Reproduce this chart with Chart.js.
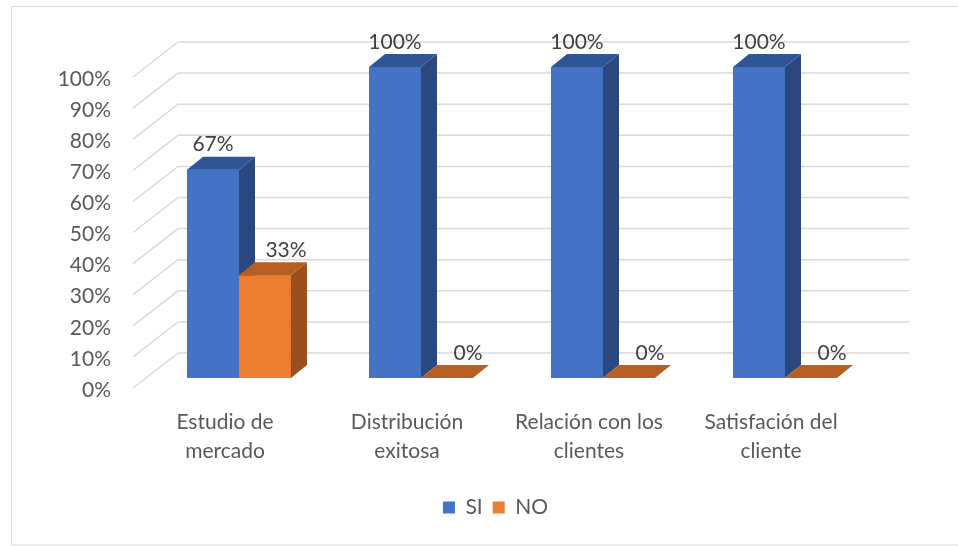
<!DOCTYPE html>
<html>
<head>
<meta charset="utf-8">
<script src="https://cdn.jsdelivr.net/npm/chart.js@4.4.1/dist/chart.umd.min.js"></script>
<style>
  html, body { margin: 0; padding: 0; background: #ffffff; }
  #wrap { width: 958px; height: 546px; position: relative; }
</style>
</head>
<body>
<div id="wrap"><canvas id="chart" width="958" height="546"></canvas></div>
<script>
// Survey results per item (share of answers)
const categories = [
  ['Estudio de', 'mercado'],
  ['Distribución', 'exitosa'],
  ['Relación con los', 'clientes'],
  ['Satisfación del', 'cliente']
];
const seriesNames = ['SI', 'NO'];
const siValues = [0.67, 1.00, 1.00, 1.00];
const noValues = [0.33, 0.00, 0.00, 0.00];
const tickLabels = ['0%', '10%', '20%', '30%', '40%', '50%', '60%', '70%', '80%', '90%', '100%'];

// Face colours for each series: front, top, side
const faceColors = [
  { front: '#4472C4', top: '#2F5597', side: '#2A4780' },
  { front: '#ED7D31', top: '#B75F22', side: '#994E1B' }
];

const FONT = 'Lato';
const FONT_SIZE = 21;
const AXIS_TEXT = '#595959';
const LABEL_TEXT = '#404040';
const GRID = '#D9D9D9';

// Depth of each box and of the back wall, in pixels
const BOX_DX = 16, BOX_DY = 13;
const WALL_FRONT = { dx: -15, dy: 10 };
const WALL_BACK = { dx: 30, dy: -25 };
const WALL_RIGHT_EXTRA = 33;
const LABEL_SHIFT = [0, 21];
const LABEL_RISE = 25;

function poly(ctx, pts, color) {
  ctx.beginPath();
  ctx.moveTo(pts[0][0], pts[0][1]);
  for (let i = 1; i < pts.length; i++) ctx.lineTo(pts[i][0], pts[i][1]);
  ctx.closePath();
  ctx.fillStyle = color;
  ctx.fill();
}

const box3d = {
  id: 'box3d',
  beforeDraw(chart) {
    const ctx = chart.ctx;
    ctx.save();
    ctx.strokeStyle = GRID;
    ctx.lineWidth = 1;
    ctx.strokeRect(11.5, 6.5, chart.width, 538.5);
    ctx.restore();
  },
  beforeDatasetsDraw(chart) {
    const ctx = chart.ctx;
    const area = chart.chartArea;
    const ys = chart.scales.y;
    ctx.save();
    ctx.strokeStyle = GRID;
    ctx.lineWidth = 1.5;
    ys.ticks.forEach(t => {
      const py = ys.getPixelForValue(t.value);
      ctx.beginPath();
      ctx.moveTo(area.left + WALL_FRONT.dx, py + WALL_FRONT.dy);
      ctx.lineTo(area.left + WALL_BACK.dx, py + WALL_BACK.dy);
      ctx.lineTo(area.right + WALL_RIGHT_EXTRA, py + WALL_BACK.dy);
      ctx.stroke();
    });
    ctx.restore();
  },
  afterDatasetsDraw(chart) {
    const ctx = chart.ctx;
    const n = chart.data.labels.length;
    ctx.save();
    for (let i = 0; i < n; i++) {
      chart.data.datasets.forEach((ds, d) => {
        const el = chart.getDatasetMeta(d).data[i];
        const { x, y, base, width } = el.getProps(['x', 'y', 'base', 'width'], true);
        const L = x - width / 2, R = x + width / 2;
        const c = faceColors[d];
        if (base - y > 0.5) {
          ctx.fillStyle = c.front;
          ctx.fillRect(L, y, width, base - y);
          poly(ctx, [[R, y], [R + BOX_DX, y - BOX_DY], [R + BOX_DX, base - BOX_DY], [R, base]], c.side);
        }
        poly(ctx, [[L, y], [R, y], [R + BOX_DX, y - BOX_DY], [L + BOX_DX, y - BOX_DY]], c.top);
      });
    }
    // value labels above each box
    ctx.font = FONT_SIZE + 'px ' + FONT;
    ctx.fillStyle = LABEL_TEXT;
    ctx.textAlign = 'center';
    ctx.textBaseline = 'middle';
    chart.data.datasets.forEach((ds, d) => {
      chart.getDatasetMeta(d).data.forEach((el, i) => {
        const { x, y } = el.getProps(['x', 'y'], true);
        ctx.fillText(Math.round(ds.data[i] * 100) + '%', x + LABEL_SHIFT[d], y - LABEL_RISE);
      });
    });
    ctx.restore();
  }
};

new Chart(document.getElementById('chart'), {
  type: 'bar',
  data: {
    labels: categories,
    datasets: [
      { label: seriesNames[0], data: siValues, backgroundColor: faceColors[0].front, borderWidth: 0, inflateAmount: 0, yAxisID: 'y' },
      { label: seriesNames[1], data: noValues, backgroundColor: faceColors[1].front, borderWidth: 0, inflateAmount: 0, yAxisID: 'y' }
    ]
  },
  options: {
    responsive: false,
    animation: false,
    devicePixelRatio: 1,
    layout: { padding: { left: 50, right: 17, top: 67, bottom: 18 } },
    datasets: { bar: { categoryPercentage: 0.571, barPercentage: 1 } },
    plugins: {
      legend: {
        position: 'bottom',
        labels: {
          boxWidth: 12, boxHeight: 12, padding: 10,
          color: AXIS_TEXT,
          font: { family: FONT, size: FONT_SIZE }
        }
      },
      tooltip: { enabled: false }
    },
    scales: {
      x: {
        grid: { display: false, drawTicks: false },
        border: { display: false },
        ticks: {
          color: AXIS_TEXT,
          font: { family: FONT, size: FONT_SIZE, lineHeight: '29px' },
          padding: 30,
          labelOffset: -14,
          maxRotation: 0,
          autoSkip: false
        },
        afterFit(scale) { scale.height = 109; }
      },
      y: {
        position: 'left',
        min: 0, max: 1,
        grid: { display: false, drawTicks: false },
        border: { display: false },
        ticks: {
          stepSize: 0.1,
          color: AXIS_TEXT,
          font: { family: FONT, size: FONT_SIZE },
          padding: 37,
          labelOffset: 12,
          autoSkip: false,
          callback: (v, idx) => tickLabels[idx]
        },
        afterFit(scale) { scale.width = 98; }
      },
      // empty right-hand margin for the depth of the back wall
      depth: {
        position: 'right',
        min: 0, max: 1,
        grid: { display: false, drawTicks: false },
        border: { display: false },
        ticks: { display: false },
        afterFit(scale) { scale.width = 65; }
      }
    }
  },
  plugins: [box3d]
});
</script>
</body>
</html>
